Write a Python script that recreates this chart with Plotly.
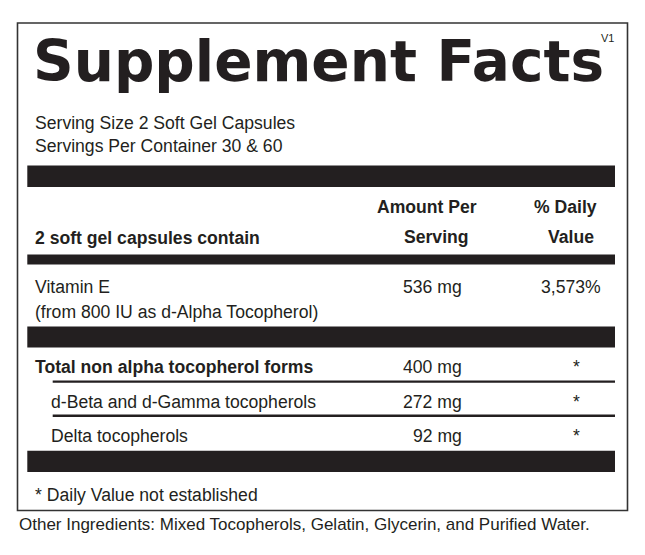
import plotly.graph_objects as go

# Label content
title_text = "Supplement Facts"
version_tag = "V1"
serving_lines = ["Serving Size 2 Soft Gel Capsules", "Servings Per Container 30 & 60"]
header_left = "2 soft gel capsules contain"
header_amount = ["Amount Per", "Serving"]
header_dv = ["% Daily", "Value"]

nutrients = ["Vitamin E", "Total non alpha tocopherol forms",
             "d-Beta and d-Gamma tocopherols", "Delta tocopherols"]
nutrient_notes = ["(from 800 IU as d-Alpha Tocopherol)", "", "", ""]
amounts = ["536 mg", "400 mg", "272 mg", "92 mg"]
daily_values = ["3,573%", "*", "*", "*"]

footnote = "* Daily Value not established"
other_ingredients = "Other Ingredients: Mixed Tocopherols, Gelatin, Glycerin, and Purified Water."

# layout of the rows (pixels from top)
row_baselines = [293, 373, 408, 442]
row_indent = [33.3, 33.3, 49.3, 49.3]
row_bold = [False, True, False, False]

INK = "#231f20"
BODY = "Liberation Sans, Arial, sans-serif"
SIZE = 17.6

# page body has an 8px margin, so the div is shifted; map page pixels directly
W, H = 645, 555
PAD = 8
fig = go.Figure()
annotations = []


def label(x, baseline, text, size=SIZE, anchor="left", bold=False, family=BODY):
    if bold:
        text = "<b>" + text + "</b>"
    annotations.append(dict(
        x=x, y=baseline - 0.35 * size, text=text, xref="x", yref="y",
        xanchor=anchor, yanchor="middle", showarrow=False,
        font=dict(family=family, size=size, color=INK)))


# title block
label(30.5, 81.7, title_text, size=56.5, bold=True, family="DejaVu Sans, Liberation Sans, sans-serif")
label(616, 41.7, version_tag, size=11, anchor="right")

for i, line in enumerate(serving_lines):
    label(33.3, 129 + i * 23.5, line)

# header row
label(33.3, 244, header_left, bold=True)
label(427, 213.5, header_amount[0], bold=True, anchor="center")
label(436, 243.5, header_amount[1], bold=True, anchor="center")
label(565, 213.5, header_dv[0], bold=True, anchor="center")
label(571, 243.5, header_dv[1], bold=True, anchor="center")

# nutrient rows
for i, name in enumerate(nutrients):
    b = row_baselines[i]
    label(row_indent[i], b, name, bold=row_bold[i])
    if nutrient_notes[i]:
        label(row_indent[i], b + 25, nutrient_notes[i])
    label(463.5, b, amounts[i], anchor="right")
    dv = daily_values[i]
    if dv == "*":
        label(576, b, dv, anchor="center")
    else:
        label(602.5, b, dv, anchor="right")

label(33.3, 500.7, footnote)
label(17.3, 530.7, other_ingredients, size=17)

# frame, heavy bars and thin rules
shapes = [dict(type="rect", x0=17.5, x1=627.5, y0=23, y1=510.5,
               line=dict(color="#333333", width=1.6), fillcolor="rgba(0,0,0,0)")]
for y0, y1 in [(165.5, 187), (254.5, 264.5), (326.5, 347.5), (450.7, 472)]:
    shapes.append(dict(type="rect", x0=27.3, x1=615, y0=y0, y1=y1,
                       line=dict(width=0), fillcolor=INK))
for y in [381.6, 415.7]:
    shapes.append(dict(type="line", x0=52.7, x1=615, y0=y, y1=y,
                       line=dict(color=INK, width=2.4)))

fig.update_layout(
    width=W - PAD, height=H - PAD,
    margin=dict(l=0, r=0, t=0, b=0),
    paper_bgcolor="white", plot_bgcolor="white",
    xaxis=dict(range=[PAD, W], visible=False, fixedrange=True),
    yaxis=dict(range=[H, PAD], visible=False, fixedrange=True),
    shapes=shapes, annotations=annotations,
    showlegend=False,
)

fig.write_html("out.html")
